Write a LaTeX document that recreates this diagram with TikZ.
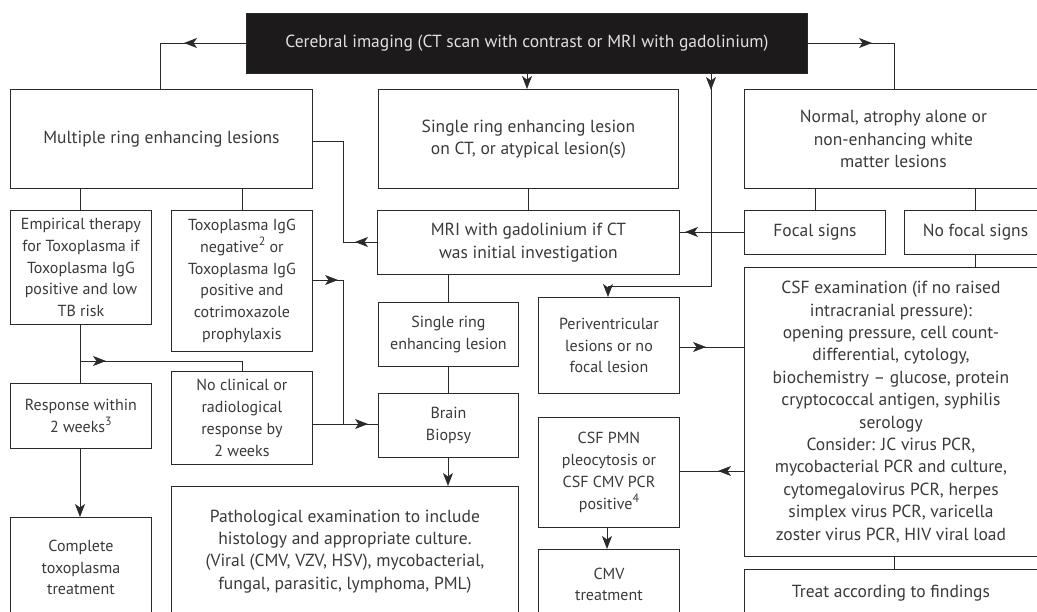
\documentclass[tikz,border=0pt]{standalone}
\usepackage{fontspec}
\setmainfont{PT Sans}
\usetikzlibrary{arrows.meta,calc}
\definecolor{txt}{HTML}{3A3A3A}
\definecolor{ln}{HTML}{2A2A2A}
\definecolor{topfill}{HTML}{1C1A1A}
\newcommand{\mysupr}[1]{\raisebox{0.42em}{\fontsize{12}{12}\selectfont #1}}
\begin{document}
\begin{tikzpicture}[x=1pt,y=-1pt,
  box/.style={draw=ln, line width=0.9pt, inner sep=0pt, anchor=north west, align=center,
    text=txt, font=\fontsize{16}{21.8}\selectfont},
  bigbox/.style={box, font=\fontsize{17.5}{22.4}\selectfont},
  conn/.style={draw=ln, line width=0.9pt},
  arr/.style={draw=ln, line width=0.9pt, -{Stealth[length=13pt,width=10pt,inset=3.5pt]}},
  endarr/.style={arr}]
\useasboundingbox (0,0) rectangle (1037,612);
\clip (0,0) rectangle (1037,612);
\fill[white] (0,0) rectangle (1037,612);
% nodes
\node[bigbox, fill=topfill, text=white!88!black, minimum width=561, minimum height=60] (top) at (246,13) {Cerebral imaging (CT scan with contrast or MRI with gadolinium)};
\node[bigbox, minimum width=302, minimum height=99] (multi) at (10,89) {Multiple ring enhancing lesions};
\node[bigbox, minimum width=300, minimum height=99] (single) at (378,89) {Single ring enhancing lesion\\on CT, or atypical lesion(s)};
\node[bigbox, minimum width=298, minimum height=99] (normal) at (744,89) {Normal, atrophy alone or\\non-enhancing white\\matter lesions};
\node[box, minimum width=141, minimum height=114] (emp) at (10,210) {Empirical therapy\\for Toxoplasma if\\Toxoplasma IgG\\positive and low\\TB risk};
\node[box, minimum width=141, minimum height=141] (toxo) at (171,210) {Toxoplasma IgG\\negative\mysupr{2} or\\Toxoplasma IgG\\positive and\\cotrimoxazole\\prophylaxis};
\node[bigbox, minimum width=302, minimum height=64] (mri) at (377,210) {MRI with gadolinium if CT\\was initial investigation};
\node[bigbox, minimum width=141, minimum height=44] (focal) at (744,210) {Focal signs};
\node[bigbox, minimum width=142, minimum height=44] (nofocal) at (904,210) {No focal signs};
\node[box, minimum width=140, minimum height=64] (ssingle) at (378,302) {Single ring\\enhancing lesion};
\node[box, minimum width=141, minimum height=96] (peri) at (538,297) {Periventricular\\lesions or no\\focal lesion};
\node[bigbox, minimum width=293, minimum height=289] (csf) at (744,267) {CSF examination (if no raised\\intracranial pressure):\\opening pressure, cell count-\\differential, cytology,\\biochemistry -- glucose, protein\\cryptococcal antigen, syphilis\\serology\\Consider: JC virus PCR,\\mycobacterial PCR and culture,\\cytomegalovirus PCR, herpes\\simplex virus PCR, varicella\\zoster virus PCR, HIV viral load};
\node[box, minimum width=141, minimum height=65] (resp) at (10,383) {Response within\\2 weeks\mysupr{3}};
\node[box, minimum width=141, minimum height=93] (nocl) at (171,371) {No clinical or\\radiological\\response by\\2 weeks};
\node[box, minimum width=140, minimum height=64] (biopsy) at (378,393) {Brain\\Biopsy};
\node[box, minimum width=141, minimum height=110] (pmn) at (538,417) {CSF PMN\\pleocytosis or\\CSF CMV PCR\\positive\mysupr{4}};
\node[box, minimum width=141, minimum height=100] (complete) at (10,517) {Complete\\toxoplasma\\treatment};
\node[bigbox, minimum width=347, minimum height=130] (path) at (171,486) {Pathological examination to include\\histology and appropriate culture.\\(Viral (CMV, VZV, HSV), mycobacterial,\\fungal, parasitic, lymphoma, PML)};
\node[box, minimum width=141, minimum height=70] (cmvt) at (538,549) {CMV\\treatment};
\node[bigbox, minimum width=293, minimum height=48] (treat) at (744,569) {Treat according to findings};
% helper coordinates
\coordinate (tl) at (160,43);
\coordinate (tr) at (894,43);
\coordinate (mx) at (343,141);
\coordinate (vx) at (711,286);
% top -> multi
\draw[conn] (top.west |- 0,43) -- (tl) -- (tl |- multi.north);
\draw[arr] (top.west |- 0,43) -- (184,43);
% top -> normal
\draw[conn] (top.east |- 0,43) -- (tr) -- (tr |- normal.north);
\draw[arr] (top.east |- 0,43) -- (872,43);
% top -> single
\draw[endarr] (top.south -| 527,0) -- (single.north -| 527,0);
% top -> peri (long line)
\draw[conn] (top.south -| 711,0) -- (vx) -- (608,286);
\draw[endarr] (top.south -| 711,0) -- (711,90);
\draw[endarr] (608,286) -- (peri.north -| 608,0);
% mri -> multi loop
\draw[conn] (multi.east |- mx) -- (mx) -- (343,242) -- (mri.west |- 0,242);
\draw[arr] (mri.west |- 0,242) -- (355,242);
% multi -> emp, toxo
\draw[conn] (multi.south -| 80,0) -- (emp.north -| 80,0);
\draw[conn] (multi.south -| 242,0) -- (toxo.north -| 242,0);
% single -> mri
\draw[conn] (single.south -| 528,0) -- (mri.north -| 528,0);
% normal -> focal, nofocal
\draw[conn] (normal.south -| 815,0) -- (focal.north -| 815,0);
\draw[conn] (normal.south -| 975,0) -- (nofocal.north -| 975,0);
% nofocal -> csf
\draw[conn] (nofocal.south -| 975,0) -- (csf.north -| 975,0);
% focal -> mri
\draw[conn] (focal.west |- 0,232) -- (mri.east |- 0,232);
\draw[arr] (focal.west |- 0,232) -- (685,232);
% mri -> ssingle -> biopsy
\draw[conn] (mri.south -| 448,0) -- (ssingle.north -| 448,0);
\draw[conn] (ssingle.south -| 448,0) -- (biopsy.north -| 448,0);
% toxo -> biopsy
\draw[conn] (toxo.east |- 0,280) -- (343,280) -- (343,424) -- (biopsy.west |- 0,424);
\draw[arr] (toxo.east |- 0,280) -- (338,280);
% nocl -> biopsy
\draw[conn] (nocl.east |- 0,424) -- (343,424);
\draw[arr] (343,424) -- (368,424);
% emp -> resp, nocl
\draw[conn] (emp.south -| 80,0) -- (resp.north -| 80,0);
\draw[conn] (80,361) -- (242,361) -- (nocl.north -| 242,0);
\draw[arr] (80,361) -- (106,361);
% resp -> complete
\draw[endarr] (resp.south -| 80,0) -- (complete.north -| 80,0);
% biopsy -> path
\draw[endarr] (biopsy.south -| 448,0) -- (path.north -| 448,0);
% peri -> csf
\draw[conn] (peri.east |- 0,347) -- (csf.west |- 0,347);
\draw[arr] (peri.east |- 0,347) -- (706,347);
% csf -> pmn
\draw[conn] (csf.west |- 0,471) -- (pmn.east |- 0,471);
\draw[arr] (csf.west |- 0,471) -- (718,471);
% pmn -> cmvt
\draw[endarr] (pmn.south -| 607,0) -- (cmvt.north -| 607,0);
% csf -> treat
\draw[conn] (csf.south -| 894,0) -- (treat.north -| 894,0);
\end{tikzpicture}
\end{document}
